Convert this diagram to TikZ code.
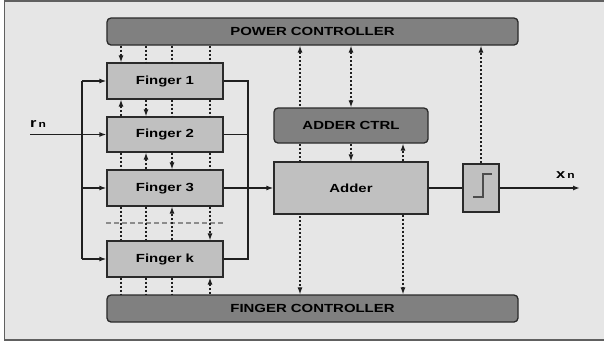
\documentclass[tikz,border=0pt]{standalone}
\usepackage{fontspec}
\setmainfont{Liberation Sans}
\usetikzlibrary{arrows.meta}
\definecolor{bgc}{HTML}{E6E6E6}
\definecolor{darkbox}{HTML}{808080}
\definecolor{lightbox}{HTML}{C0C0C0}
\definecolor{edge}{HTML}{2A2A2A}
\definecolor{framec}{HTML}{606060}
\newcommand\wtxt[1]{\scalebox{1.27}[1]{#1}}
\pgfdeclarelayer{bg}
\pgfsetlayers{bg,main}
\begin{document}
\begin{tikzpicture}[x=1bp,y=-1bp,
  lbl/.style={font=\fontsize{11.8}{12}\selectfont\bfseries},
  ctrl/.style={lbl,draw=edge,line width=1.3bp,fill=darkbox,rounded corners=4bp,minimum width=411bp,minimum height=27bp,inner sep=0pt},
  blk/.style={lbl,draw=edge,line width=1.3bp,fill=lightbox,inner sep=0pt},
  sig/.style={line width=1.5bp,draw=black!88},
  arr/.style={-{Latex[length=7bp,width=5bp]}},
  birr/.style={{Latex[length=7bp,width=5bp]}-{Latex[length=7bp,width=5bp]}},
  dot/.style={line width=1.1bp,dash pattern=on 2bp off 2bp,draw=black!88},
  ]
\useasboundingbox (0,0) rectangle (604,343);
\begin{pgfonlayer}{bg}
\draw[fill=bgc,draw=framec,line width=1.5bp] (4.5,1) rectangle (612,340);
\end{pgfonlayer}

% controllers
\node[ctrl] (PC) at (312.5,31.5) {\wtxt{POWER CONTROLLER}};
\node[ctrl] (FC) at (312.5,308.5) {\wtxt{FINGER CONTROLLER}};
% fingers
\node[blk,minimum width=116bp,minimum height=36bp] (F1) at (165,81) {\wtxt{Finger 1}};
\node[blk,minimum width=116bp,minimum height=35bp] (F2) at (165,134.5) {\wtxt{Finger 2}};
\node[blk,minimum width=116bp,minimum height=36bp] (F3) at (165,188) {\wtxt{Finger 3}};
\node[blk,minimum width=116bp,minimum height=36bp] (Fk) at (165,259) {\wtxt{Finger k}};
% adder
\node[ctrl,minimum width=154bp,minimum height=35bp] (AC) at (351,125.5) {\wtxt{ADDER CTRL}};
\node[blk,minimum width=154bp,minimum height=52bp] (AD) at (351,188) {\wtxt{Adder}};
% threshold
\node[blk,minimum width=36bp,minimum height=48bp] (TH) at (481,188) {};
\draw[line width=1.3bp,draw=black!70] ([shift={(-8,9)}]TH.center) -- ([shift={(2,9)}]TH.center) -- ([shift={(2,-14)}]TH.center) -- ([shift={(11,-14)}]TH.center);

% labels
\node[font=\bfseries,anchor=base west,inner sep=0pt] (rn) at (30,127) {\wtxt{{\fontsize{13}{13}\selectfont r}\,{\fontsize{9.5}{10}\selectfont n}}};
\node[font=\bfseries,anchor=base west,inner sep=0pt] (xn) at (556,178) {\wtxt{{\fontsize{13}{13}\selectfont x}\,{\fontsize{9.5}{10}\selectfont n}}};

% coordinates
\coordinate (bl) at (82,0);
\coordinate (br) at (248,0);
\coordinate (in) at (30,134.5);
\coordinate (out) at (580,188);
\coordinate (xa) at (121,0);
\coordinate (xb) at (146,0);
\coordinate (xc) at (172,0);
\coordinate (xd) at (210,0);
\coordinate (xe) at (300,0);
\coordinate (xf) at (403,0);
\coordinate (sep) at (0,223);

% solid signal lines
\draw[sig] (F1.west -| bl) -- (Fk.west -| bl);
\draw[sig,arr] (F1.west -| bl) -- (F1.west);
\draw[sig,arr] (F3.west -| bl) -- (F3.west);
\draw[sig,arr] (Fk.west -| bl) -- (Fk.west);
\draw[sig,arr] (in) -- (F2.west);
\draw[sig] (F1.east) -- (F1.east -| br) -- (Fk.east -| br) -- (Fk.east);
\draw[sig] (F2.east) -- (F2.east -| br);
\draw[sig] (F3.east) -- (F3.east -| br);
\draw[sig,arr] (F3.east -| br) -- (AD.west);
\draw[sig] (AD.east) -- (TH.west);
\draw[sig,arr] (TH.east) -- (out);

% separator
\draw[draw=black!45,line width=1.1bp,dash pattern=on 5bp off 3bp] (F3.south west |- sep) -- (F3.south east |- sep);

% dotted control lines, column a
\draw[dot,arr] (PC.south -| xa) -- (F1.north -| xa);
\draw[dot,arr] (F2.north -| xa) -- (F1.south -| xa);
\draw[dot] (F2.south -| xa) -- (F3.north -| xa);
\draw[dot] (F3.south -| xa) -- (Fk.north -| xa);
\draw[dot] (Fk.south -| xa) -- (FC.north -| xa);
% column b
\draw[dot] (PC.south -| xb) -- (F1.north -| xb);
\draw[dot,arr] (F1.south -| xb) -- (F2.north -| xb);
\draw[dot,arr] (F3.north -| xb) -- (F2.south -| xb);
\draw[dot] (F3.south -| xb) -- (Fk.north -| xb);
\draw[dot] (Fk.south -| xb) -- (FC.north -| xb);
% column c
\draw[dot] (PC.south -| xc) -- (F1.north -| xc);
\draw[dot] (F1.south -| xc) -- (F2.north -| xc);
\draw[dot,arr] (F2.south -| xc) -- (F3.north -| xc);
\draw[dot,arr] (Fk.north -| xc) -- (F3.south -| xc);
\draw[dot] (Fk.south -| xc) -- (FC.north -| xc);
% column d
\draw[dot] (PC.south -| xd) -- (F1.north -| xd);
\draw[dot] (F1.south -| xd) -- (F2.north -| xd);
\draw[dot] (F2.south -| xd) -- (F3.north -| xd);
\draw[dot,arr] (F3.south -| xd) -- (Fk.north -| xd);
\draw[dot,arr] (FC.north -| xd) -- (Fk.south -| xd);

% right-hand dotted lines
\begin{pgfonlayer}{bg}
\draw[dot,birr] (PC.south -| xe) -- (FC.north -| xe);
\end{pgfonlayer}
\draw[dot,birr] (PC.south -| AC.north) -- (AC.north);
\draw[dot,arr] (AC.south) -- (AD.north);
\draw[dot,arr] (AD.north -| xf) -- (AC.south -| xf);
\draw[dot,arr] (AD.south -| xf) -- (FC.north -| xf);
\draw[dot,arr] (TH.north) -- (PC.south -| TH.north);
\end{tikzpicture}
\end{document}
